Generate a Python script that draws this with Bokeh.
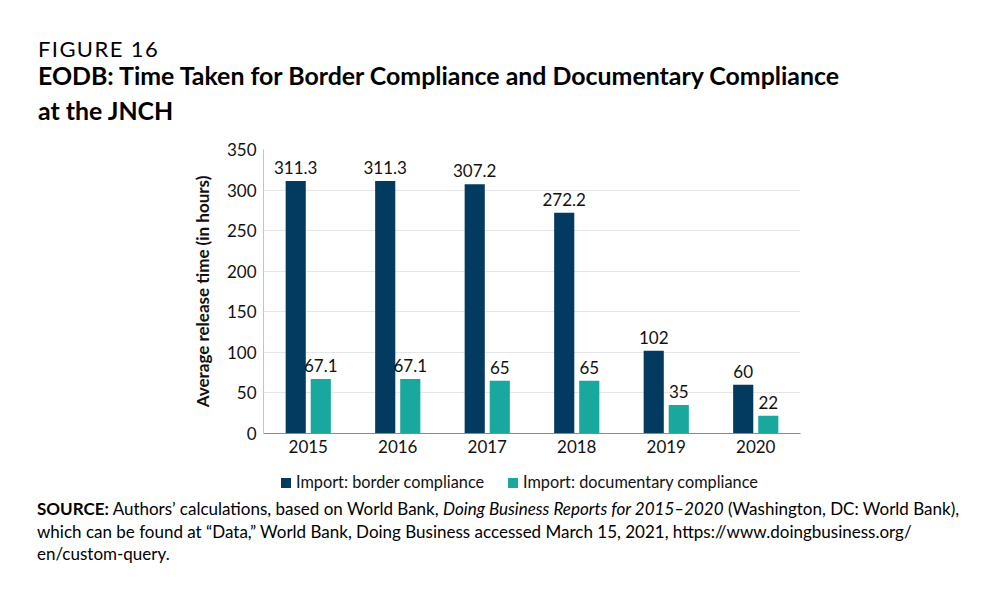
from bokeh.plotting import figure
from bokeh.layouts import column
from bokeh.models import (ColumnDataSource, FixedTicker, LabelSet, Range1d, Div)
from bokeh.transform import dodge
from bokeh.core.properties import value
from bokeh.embed import file_html
from bokeh.resources import INLINE

# ---------------- data ----------------
years = ["2015", "2016", "2017", "2018", "2019", "2020"]
border_compliance = [311.3, 311.3, 307.2, 272.2, 102, 60]
documentary_compliance = [67.1, 67.1, 65, 65, 35, 22]
border_labels = ["311.3", "311.3", "307.2", "272.2", "102", "60"]
documentary_labels = ["67.1", "67.1", "65", "65", "35", "22"]
y_ticks = [0, 50, 100, 150, 200, 250, 300, 350]
series_names = ["Import: border compliance", "Import: documentary compliance"]
series_colors = ["#033a5f", "#19a89d"]

figure_label = "FIGURE 16"
title_lines = ["EODB: Time Taken for Border Compliance and Documentary Compliance",
               "at the JNCH"]
y_title = "Average release time (in hours)"
source_bold = "SOURCE:"
source_l1a = "Authors\u2019 calculations, based on World Bank,"
source_l1_italic = "Doing Business Reports for 2015\u20132020"
source_l1b = "(Washington, DC: World Bank),"
source_l2 = ("which can be found at \u201cData,\u201d World Bank, Doing Business accessed "
             "March 15, 2021, https://www.doingbusiness.org/")
source_l3 = "en/custom-query."

FONT = "Lato"
TXT = "#111111"
W = 984
T_H = 140              # title block height
P_TOP, P_H = 140, 323  # chart block
S_H = 121              # legend + source block
FL, FR, FT, FB = 263, 800, 149, 433   # frame edges in page pixels

# ---------- title block ----------
title_html = (
    f'<div style="position:relative;width:{W}px;height:{T_H}px;font-family:{FONT};color:#000;">'
    f'<div style="position:absolute;left:38px;top:36px;font-size:22px;line-height:26.4px;'
    f'letter-spacing:1.4px;white-space:nowrap;">{figure_label}</div>'
    f'<div style="position:absolute;left:38px;top:58px;font-size:24.9px;line-height:35px;'
    f'font-weight:bold;white-space:nowrap;">{title_lines[0]}<br>{title_lines[1]}</div>'
    '</div>')
title_div = Div(text=title_html, width=W, height=T_H, margin=0)

# ---------- chart ----------
idx = list(range(len(years)))
src = ColumnDataSource(dict(i=idx, year=years, border=border_compliance,
                            doc=documentary_compliance,
                            border_lbl=border_labels, doc_lbl=documentary_labels))

p = figure(width=W, height=P_H, x_range=Range1d(-0.5, len(years) - 0.5),
           y_range=Range1d(0, 350), output_backend="svg", toolbar_location=None,
           min_border_left=FL, min_border_right=W - FR,
           min_border_top=FT - P_TOP, min_border_bottom=P_H - (FB - P_TOP),
           margin=0)
p.outline_line_color = None

OFF = 0.14
BW = 0.225
r1 = p.vbar(x=dodge("i", -OFF), top="border", width=BW,
            source=src, fill_color=series_colors[0], line_color=None)
r2 = p.vbar(x=dodge("i", OFF), top="doc", width=BW,
            source=src, fill_color=series_colors[1], line_color=None)

for xoff, col in [(-OFF, "border"), (OFF, "doc")]:
    p.add_layout(LabelSet(x=dodge("i", xoff), y=col,
                          text=col + "_lbl", source=src, text_align="center",
                          text_baseline="alphabetic", y_offset=7,
                          text_font_size="17px", text_font=value(FONT),
                          text_color=TXT))

p.xgrid.grid_line_color = None
p.ygrid.grid_line_color = "#e6e6e6"
p.ygrid.grid_line_width = 1.2
p.yaxis.ticker = FixedTicker(ticks=y_ticks)
p.xaxis.ticker = FixedTicker(ticks=idx)
p.xaxis.major_label_overrides = {i: y for i, y in zip(idx, years)}
for ax in (p.xaxis[0], p.yaxis[0]):
    ax.major_tick_line_color = None
    ax.minor_tick_line_color = None
    ax.major_tick_out = 0
    ax.major_tick_in = 0
    ax.minor_tick_out = 0
    ax.minor_tick_in = 0
    ax.major_label_text_font = FONT
    ax.major_label_text_font_size = "17px"
    ax.major_label_text_color = TXT
p.xaxis.axis_line_color = "#8a8a8a"
p.yaxis.axis_line_color = "#c4c4c4"
p.xaxis.major_label_standoff = 6
p.yaxis.major_label_standoff = 7
p.yaxis.axis_label = y_title
p.yaxis.axis_label_text_font = FONT
p.yaxis.axis_label_text_font_style = "bold"
p.yaxis.axis_label_text_font_size = "17px"
p.yaxis.axis_label_text_color = TXT
p.yaxis.axis_label_standoff = 11

# ---------- legend + source block ----------
legend_x = [(281, 296), (508, 523)]   # (swatch left, label left) in page px
legend_html = ""
for (sx, lx), name, colr in zip(legend_x, series_names, series_colors):
    legend_html += (
        f'<div style="position:absolute;left:{sx}px;top:15px;width:10px;height:10px;'
        f'background:{colr};"></div>'
        f'<div style="position:absolute;left:{lx}px;top:9px;font-size:16.3px;'
        f'line-height:20px;color:{TXT};white-space:nowrap;">{name}</div>')

source_html = (
    f'<div style="position:relative;width:{W}px;height:{S_H}px;font-family:{FONT};color:#000;">'
    + legend_html +
    f'<div style="position:absolute;left:37px;top:35.2px;font-size:17px;line-height:22.5px;'
    f'white-space:nowrap;"><b>{source_bold}</b> {source_l1a} <i>{source_l1_italic}</i> '
    f'{source_l1b}<br>{source_l2}<br>{source_l3}</div>'
    '</div>')
source_div = Div(text=source_html, width=W, height=S_H, margin=0)

layout = column(title_div, p, source_div, spacing=0)
open("out.html", "w").write(file_html(layout, INLINE))
